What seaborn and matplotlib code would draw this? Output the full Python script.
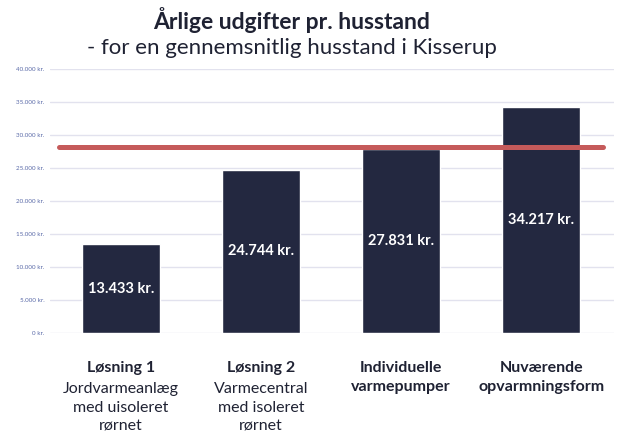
import matplotlib.pyplot as plt
import seaborn as sns
import pandas as pd

# Data
categories = ['Løsning 1', 'Løsning 2', 'Individuelle varmepumper', 'Nuværende opvarmningsform']
values = [13433, 24744, 27831, 34217]
bold_labels = ['Løsning 1', 'Løsning 2', 'Individuelle\nvarmepumper', 'Nuværende\nopvarmningsform']
normal_labels = ['Jordvarmeanlæg\nmed uisoleret\nrørnet', 'Varmecentral\nmed isoleret\nrørnet', '', '']
reference_level = 28100
y_ticks = [0, 5000, 10000, 15000, 20000, 25000, 30000, 35000, 40000]

df = pd.DataFrame({'kategori': categories, 'udgift': values})


def kr(v):
    return f"{v:,.0f}".replace(',', '.') + ' kr.'


sns.set_style('white')
plt.rcParams['font.family'] = ['Lato', 'DejaVu Sans']

fig = plt.figure(figsize=(6.26, 4.44), dpi=100)
ax = fig.add_axes([0.08, 0.25, 0.901, 0.595])

sns.barplot(data=df, x='kategori', y='udgift', order=categories, color='#232840',
            saturation=1, width=0.56, ax=ax, zorder=2)

ax.set_ylim(0, 40000)
ax.set_xlim(-0.507, 3.52)
ax.set_yticks(y_ticks)
ax.set_yticklabels([kr(v) for v in y_ticks], fontsize=4.5, color='#5a6aa8')
ax.yaxis.grid(True, color='#e2e2ee', linewidth=1, zorder=0)
ax.set_axisbelow(True)
for s in ax.spines.values():
    s.set_visible(False)
ax.tick_params(axis='both', length=0, pad=4)
ax.set_xlabel('')
ax.set_ylabel('')
ax.set_xticks(range(len(categories)))
ax.set_xticklabels([])

# reference line (current level)
ax.axhline(reference_level, xmin=0.015, xmax=0.98, color='#c55a5a', linewidth=3.6, zorder=3)

# value labels in bars
for i, v in enumerate(values):
    ax.text(i, v / 2, kr(v), ha='center', va='center', color='white',
            fontsize=10.5, fontweight='bold', zorder=4)

# category labels
for i in range(len(categories)):
    ax.annotate(bold_labels[i], xy=(i, 0), xycoords=('data', 'axes fraction'),
                xytext=(0, -20), textcoords='offset points', ha='center', va='top',
                fontsize=11.5, fontweight='bold', color='#1f2233', linespacing=1.45)
    if normal_labels[i]:
        ax.annotate(normal_labels[i], xy=(i, 0), xycoords=('data', 'axes fraction'),
                    xytext=(0, -35), textcoords='offset points', ha='center', va='top',
                    fontsize=11.5, color='#1f2233', linespacing=1.45)

fig.text(0.465, 0.955, 'Årlige udgifter pr. husstand', ha='center', va='center',
         fontsize=16.5, fontweight='bold', color='#1f2233')
fig.text(0.467, 0.893, '- for en gennemsnitlig husstand i Kisserup', ha='center', va='center',
         fontsize=16, color='#1f2233')

fig.savefig('out.png', dpi=100)
